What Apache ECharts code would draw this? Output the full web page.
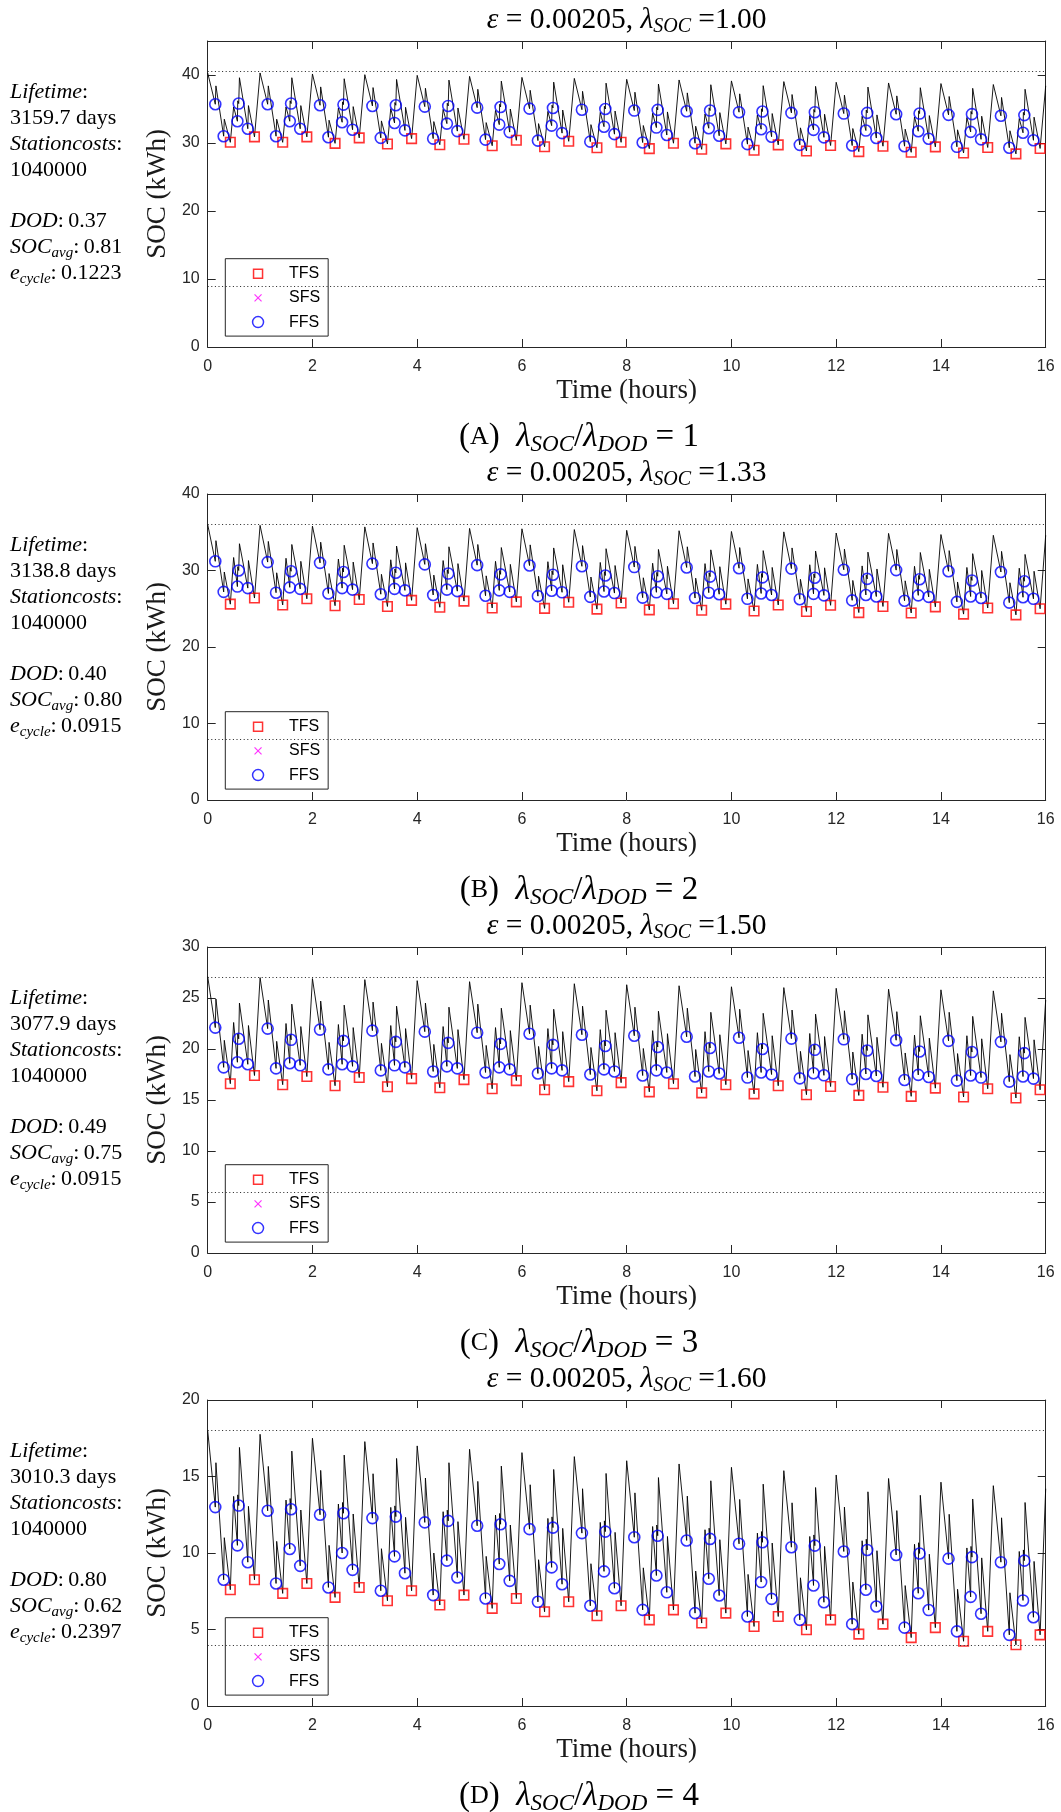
<!DOCTYPE html>
<html><head><meta charset="utf-8">
<script src="https://cdn.jsdelivr.net/npm/echarts@6/dist/echarts.min.js"></script>
<style>html,body{margin:0;padding:0;background:#fff}#c{width:1061px;height:1812px}</style>
</head><body><div id="c"></div>
<script>
// ---- data ----
// time (hours) of each vertex inside one 1-hour cycle
const eventOffsets = [0, 0.145, 0.157, 0.305, 0.317, 0.432, 0.495, 0.567, 0.574, 0.592, 0.606, 0.766, 0.778, 0.893];
const tfsIdx = [5, 13];           // vertices marked TFS
const ffsIdx = [1, 3, 7, 9, 11];  // vertices marked FFS
// SOC (kWh) of the vertices in the first cycle of each panel
const shapeA = [40.3, 35.7, 38.4, 31.0, 33.5, 30.1, 35.3, 33.2, 36.2, 35.8, 39.6, 32.1, 35.5, 30.9];
const shapeB = [36.0, 31.2, 33.9, 27.2, 29.8, 25.6, 31.7, 27.9, 30.5, 30.0, 33.5, 27.7, 31.3, 26.4];
const shapeC = [27.1, 22.1, 24.9, 18.2, 20.85, 16.6, 22.6, 18.7, 21.5, 21.0, 24.5, 18.5, 22.3, 17.4];
const shapeD = [18.0, 13.0, 15.9, 8.25, 11.0, 7.6, 13.7, 10.5, 13.8, 13.1, 16.9, 9.4, 13.05, 8.25];
// peak SOC at the start of each hour (hours 0..15)
const levelA = [40.3, 40.3, 40.15, 40.05, 39.95, 39.8, 39.65, 39.5, 39.37, 39.27, 39.13, 39.03, 38.93, 38.83, 38.74, 38.6];
const levelB = [36.0, 35.9, 35.8, 35.7, 35.6, 35.5, 35.45, 35.35, 35.25, 35.2, 35.1, 35.05, 34.9, 34.85, 34.7, 34.6];
const levelC = [27.1, 27.0, 26.9, 26.8, 26.7, 26.6, 26.5, 26.4, 26.3, 26.2, 26.1, 26.02, 25.95, 25.86, 25.8, 25.7];
const levelD = [18.0, 17.76, 17.5, 17.28, 17.0, 16.78, 16.56, 16.3, 16.03, 15.82, 15.6, 15.38, 15.1, 14.87, 14.63, 14.4];
// SOC at t = 16 h (right edge)
const endSOC = [38.4, 34.6, 24.8, 14.2];
// SOC limits (dotted lines)
const socUpper = [40.5, 36, 27, 18];
const socLower = [9, 8, 6, 4];
// axes
const yMax = [45, 40, 30, 20];
const yStep = [10, 10, 5, 5];
const xMax = 16, xStep = 2;
// text
const lambdaSOC = ['1.00', '1.33', '1.50', '1.60'];
const lifetime = ['3159.7', '3138.8', '3077.9', '3010.3'];
const stationCosts = ['1040000', '1040000', '1040000', '1040000'];
const dodVals = ['0.37', '0.40', '0.49', '0.80'];
const socAvgVals = ['0.81', '0.80', '0.75', '0.62'];
const eCycleVals = ['0.1223', '0.0915', '0.0915', '0.2397'];
const captionLetters = ['A', 'B', 'C', 'D'];
const ratioVals = ['1', '2', '3', '4'];

const shapes = [shapeA, shapeB, shapeC, shapeD];
const levels = [levelA, levelB, levelC, levelD];

function build(shape, level, endVal) {
  const line = [], tfs = [], ffs = [];
  level.forEach((lv, k) => {
    const d = lv - level[0];
    eventOffsets.forEach((o, j) => {
      const p = [+(k + o).toFixed(3), +(shape[j] + d).toFixed(2)];
      line.push(p);
      if (tfsIdx.includes(j)) tfs.push(p);
      if (ffsIdx.includes(j)) ffs.push(p);
    });
  });
  line.push([xMax, endVal]);
  return { line, tfs, ffs };
}

// ---- layout ----
const tops = [41, 494, 947, 1400];
const gridLeft = 207.7, gridW = 838, gridH = 306;
const axisColor = '#262626';
const SERIF = 'Liberation Serif';
const SANS = 'Liberation Sans';

const option = {
  animation: false,
  backgroundColor: '#fff',
  grid: [], xAxis: [], yAxis: [], series: [], legend: [], graphic: []
};

const sqIcon = 'path://M0,0M14,14M2.5,2.5H11.5V11.5H2.5Z';
const xIcon = 'path://M0,0M14,14M3.5,3.5L10.5,10.5M10.5,3.5L3.5,10.5';
const ciIcon = 'path://M0,0M14,14M12.5,7A5.5,5.5,0,1,1,1.5,7A5.5,5.5,0,1,1,12.5,7Z';

for (let i = 0; i < 4; i++) {
  const top = tops[i], bottom = top + gridH;
  const D = build(shapes[i], levels[i], endSOC[i]);
  option.grid.push({ left: gridLeft, width: gridW, top: top, height: gridH });
  const axLine = { onZero: false, lineStyle: { color: axisColor, width: 1 } };
  const axTick = { inside: true, length: 8, lineStyle: { color: axisColor, width: 1 } };
  option.xAxis.push({
    gridIndex: i, type: 'value', min: 0, max: xMax, interval: xStep, position: 'bottom',
    axisLine: axLine, axisTick: axTick, splitLine: { show: false },
    axisLabel: { margin: 12, fontSize: 16, fontFamily: SANS, color: axisColor }
  });
  option.xAxis.push({
    gridIndex: i, type: 'value', min: 0, max: xMax, interval: xStep, position: 'top',
    axisLine: axLine, axisTick: axTick, splitLine: { show: false }, axisLabel: { show: false }
  });
  const st = yStep[i];
  option.yAxis.push({
    gridIndex: i, type: 'value', min: 0, max: yMax[i], interval: st, position: 'left',
    axisLine: axLine, axisTick: axTick, splitLine: { show: false },
    axisLabel: { margin: 8, fontSize: 16, fontFamily: SANS, color: axisColor,
      formatter: v => (Math.abs(v / st - Math.round(v / st)) < 1e-6 ? String(v) : '') }
  });
  option.yAxis.push({
    gridIndex: i, type: 'value', min: 0, max: yMax[i], interval: st, position: 'right',
    axisLine: axLine, axisTick: axTick, splitLine: { show: false }, axisLabel: { show: false }
  });
  option.series.push({
    type: 'line', xAxisIndex: 2 * i, yAxisIndex: 2 * i, data: D.line,
    showSymbol: false, symbol: 'none', z: 2,
    lineStyle: { color: '#000', width: 0.9 },
    markLine: {
      silent: true, symbol: ['none', 'none'], label: { show: false },
      lineStyle: { color: '#222', type: [1, 2.6], width: 1 },
      data: [{ yAxis: socUpper[i] }, { yAxis: socLower[i] }]
    }
  });
  option.series.push({
    type: 'scatter', name: 'TFS', xAxisIndex: 2 * i, yAxisIndex: 2 * i, data: D.tfs, z: 3,
    symbol: 'rect', symbolSize: 9.5,
    itemStyle: { color: 'rgba(0,0,0,0)', borderColor: '#ff0000', borderWidth: 1.6 }
  });
  option.series.push({
    type: 'scatter', name: 'SFS', xAxisIndex: 2 * i, yAxisIndex: 2 * i, data: [], z: 3,
    symbol: 'path://M0,0L10,10M10,0L0,10', symbolSize: 8,
    itemStyle: { color: 'rgba(0,0,0,0)', borderColor: '#ff00ff', borderWidth: 1.2 }
  });
  option.series.push({
    type: 'scatter', name: 'FFS', xAxisIndex: 2 * i, yAxisIndex: 2 * i, data: D.ffs, z: 3,
    symbol: 'circle', symbolSize: 11,
    itemStyle: { color: 'rgba(0,0,0,0)', borderColor: '#0000ff', borderWidth: 1.6 }
  });
  option.legend.push({
    orient: 'vertical', left: 225.3, top: top + 217.7,
    padding: [7, 8, 6, 25], itemWidth: 52, itemHeight: 14, itemGap: 8.2,
    backgroundColor: '#fff', borderColor: axisColor, borderWidth: 1, borderRadius: 0,
    selectedMode: false,
    textStyle: { fontFamily: SANS, fontSize: 16, color: '#000', lineHeight: 14 },
    data: [
      { name: 'TFS', icon: sqIcon, itemStyle: { color: 'rgba(0,0,0,0)', borderColor: '#ff0000', borderWidth: 1.5 } },
      { name: 'SFS', icon: xIcon, itemStyle: { color: 'rgba(0,0,0,0)', borderColor: '#ff00ff', borderWidth: 1.2 } },
      { name: 'FFS', icon: ciIcon, itemStyle: { color: 'rgba(0,0,0,0)', borderColor: '#0000ff', borderWidth: 1.5 } }
    ]
  });
  // title
  option.graphic.push({
    type: 'text', x: gridLeft + gridW / 2, y: top - 21,
    style: {
      text: '{i|ε} = 0.00205, {i|λ}{sub|SOC} =' + lambdaSOC[i],
      fontFamily: SERIF, fontSize: 29.5, lineHeight: 34, fill: '#000',
      align: 'center', verticalAlign: 'middle',
      rich: {
        i: { fontFamily: SERIF, fontSize: 29.5, fontStyle: 'italic', lineHeight: 34 },
        sub: { fontFamily: SERIF, fontSize: 20, fontStyle: 'italic', lineHeight: 20, padding: [14, 0, 0, 0] }
      }
    }
  });
  // caption
  option.graphic.push({
    type: 'text', x: 579, y: bottom + 90,
    style: {
      text: '({sc|' + captionLetters[i] + '})  {i|λ}{sub|SOC}/{i|λ}{sub|DOD} = ' + ratioVals[i],
      fontFamily: SERIF, fontSize: 33, lineHeight: 38, fill: '#000',
      align: 'center', verticalAlign: 'middle',
      rich: {
        sc: { fontFamily: SERIF, fontSize: 26, lineHeight: 38 },
        i: { fontFamily: SERIF, fontSize: 33, fontStyle: 'italic', lineHeight: 38 },
        sub: { fontFamily: SERIF, fontSize: 23, fontStyle: 'italic', lineHeight: 22, padding: [16, 0, 0, 0] }
      }
    }
  });
  // axis names
  option.graphic.push({
    type: 'text', x: gridLeft + gridW / 2, y: bottom + 43.7,
    style: { text: 'Time (hours)', fontFamily: SERIF, fontSize: 27, fill: '#1a1a1a', align: 'center', verticalAlign: 'middle' }
  });
  option.graphic.push({
    type: 'text', x: 158.4, y: top + gridH / 2, rotation: Math.PI / 2,
    style: { text: 'SOC (kWh)', fontFamily: SERIF, fontSize: 27, fill: '#1a1a1a', align: 'center', verticalAlign: 'middle' }
  });
  // left info block
  option.graphic.push({
    type: 'text', x: 10, y: top + 38.8,
    style: {
      text: '{i|Lifetime}:\n' + lifetime[i] + ' days\n{i|Stationcosts}:\n' + stationCosts[i] +
            '\n\n{i|DOD}:\u2009' + dodVals[i] + '\n{i|SOC}{sub|avg}:\u2009' + socAvgVals[i] +
            '\n{i|e}{sub|cycle}:\u2009' + eCycleVals[i],
      fontFamily: SERIF, fontSize: 22, lineHeight: 25.8, fill: '#000',
      align: 'left', verticalAlign: 'top',
      rich: {
        i: { fontFamily: SERIF, fontSize: 22, fontStyle: 'italic', lineHeight: 25.8 },
        sub: { fontFamily: SERIF, fontSize: 15, fontStyle: 'italic', lineHeight: 13.8, padding: [12, 0, 0, 0] }
      }
    }
  });
}

const chart = echarts.init(document.getElementById('c'), null, { renderer: 'canvas' });
chart.setOption(option);
</script>
</body></html>
